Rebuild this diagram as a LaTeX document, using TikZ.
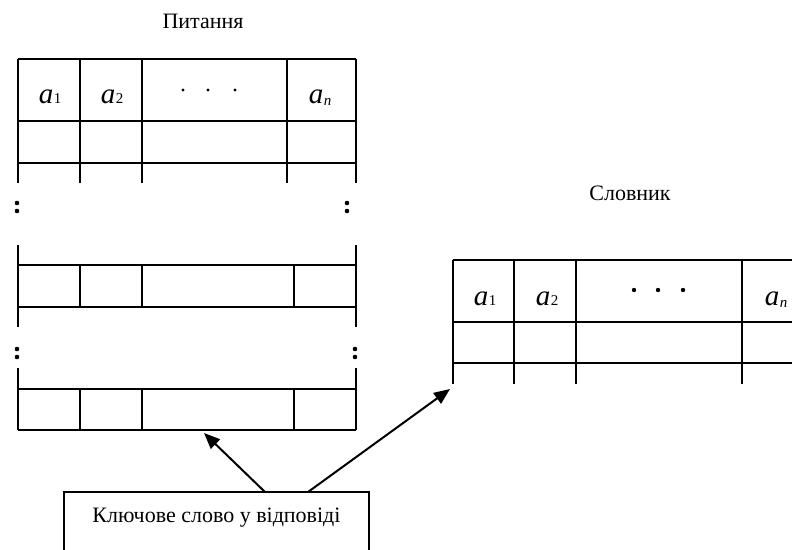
\documentclass[tikz,border=0pt]{standalone}
\usepackage{fontspec}
\setmainfont{Liberation Serif}
\usetikzlibrary{arrows.meta}
\newcommand\asub[2]{{\fontsize{29}{29}\selectfont\itshape a}\kern0.5pt\raisebox{#2}{\fontsize{15}{15}\selectfont #1}}
\tikzset{
  ln/.style={line width=2pt},
  lbl/.style={anchor=base, inner sep=0pt},
  ttl/.style={font=\fontsize{22}{22}\selectfont, inner sep=0pt},
  pt/.style={fill=black, draw=none},
  arr/.style={line width=2pt, -{Triangle[length=16pt,width=13pt]}}
}
\begin{document}
\begin{tikzpicture}[x=1pt,y=-1pt]
\useasboundingbox (0,0) rectangle (792,549);
\clip (0,0) rectangle (792,549);
% titles
\node[ttl] (t1) at (203,21) {Питання};
\node[ttl] (t2) at (630,193) {Словник};
% left table, top part
\foreach \y in {59,121,163} \draw[ln] (18,\y) -- (356,\y);
\foreach \x in {18,80,142,287,356} \draw[ln] (\x,59) -- (\x,183);
\node[lbl] (la1) at (50,103) {\asub{1}{0pt}};
\node[lbl] (la2) at (112,103) {\asub{2}{0pt}};
\node[lbl] (lan) at (320,103) {\asub{\itshape n}{-2pt}};
\foreach \x in {183,208,235} \fill[pt] (\x,90) circle (1.6);
% colons
\foreach \x/\y in {17/203,17/211,347/203,347/211,17/349,17/357,355/349,355/357}
  \fill[pt] (\x,\y) circle (2.3);
% left middle segment
\foreach \x in {18,356} \draw[ln] (\x,245) -- (\x,327);
\foreach \y in {265,307} \draw[ln] (18,\y) -- (356,\y);
\foreach \x in {80,142,294} \draw[ln] (\x,265) -- (\x,307);
% left bottom segment
\foreach \x in {18,356} \draw[ln] (\x,368) -- (\x,430);
\foreach \y in {389,430} \draw[ln] (18,\y) -- (356,\y);
\foreach \x in {80,142,294} \draw[ln] (\x,389) -- (\x,430);
% right table
\foreach \y in {260,322,363} \draw[ln] (453,\y) -- (800,\y);
\foreach \x in {453,514,576,742} \draw[ln] (\x,260) -- (\x,384);
\node[lbl] (ra1) at (485,305) {\asub{1}{0pt}};
\node[lbl] (ra2) at (547,305) {\asub{2}{0pt}};
\node[lbl] (ran) at (776,305) {\asub{\itshape n}{-2pt}};
\foreach \x in {634,658,683} \fill[pt] (\x,290) circle (2.2);
% key box
\draw[ln] (64,560) -- (64,492) -- (369,492) -- (369,560);
\node[ttl] (key) at (216.5,518) {Ключове слово у відповіді};
\coordinate (k1) at (265,492);
\coordinate (k2) at (308,492);
\coordinate (tip1) at (204,433);
\coordinate (tip2) at (450,389);
\draw[arr] (k1) -- (tip1);
\draw[arr] (k2) -- (tip2);
\end{tikzpicture}
\end{document}
